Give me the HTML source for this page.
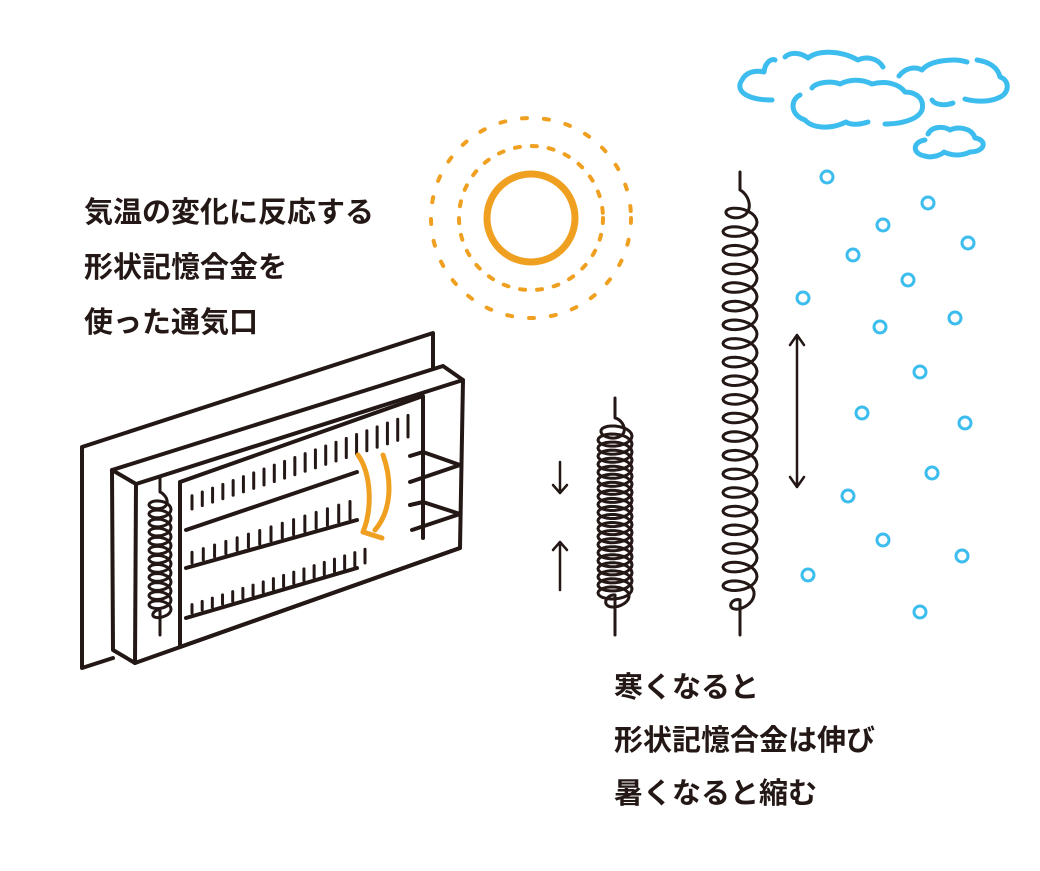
<!DOCTYPE html>
<html><head><meta charset="utf-8"><style>
html,body{margin:0;padding:0;background:#fff;width:1040px;height:871px;overflow:hidden}
.t{position:absolute;font-family:"Liberation Sans","Noto Sans CJK JP",sans-serif;font-weight:bold;font-size:29px;color:#231815;line-height:55px;white-space:nowrap}
</style></head><body>
<svg id="s" width="1040" height="871" style="position:absolute;left:0;top:0" xmlns="http://www.w3.org/2000/svg">
<g fill="none" stroke-linecap="round" stroke-linejoin="round">
<g stroke="#3dbdee" stroke-width="5">
<path d="M772,100 C745,100 735,90 742,80 C746,72 755,70 764,72 C765,62 772,58 775,60 M785,57 C790,52 800,52 808,58 C818,50 840,50 858,60 C866,56 878,58 883,67"/>
<path d="M800,95 C790,100 790,115 805,120 C812,128 830,130 846,122 C852,126 862,124 868,122 M885,124 C900,124 918,120 922,110 C925,98 915,92 905,92 C900,85 888,80 872,84 C860,78 848,80 840,84 C830,80 815,83 812,88"/>
<path d="M899,76 C905,68 915,66 922,70 C930,60 955,58 967,62 M977,60 C990,62 998,68 1000,77 C1010,80 1010,94 998,98 C990,102 975,102 965,99 M953,103 C945,106 935,105 932,100"/>
<path d="M925,140 C912,142 912,154 925,156 C930,158 940,156 944,152 C952,156 962,156 970,152 C985,152 988,140 975,138 C972,128 958,126 950,130 C944,126 932,126 928,134"/>
</g>
<g stroke="#3dbdee" stroke-width="3" id="rain"></g>
<circle cx="531" cy="218" r="44" stroke="#f0a020" stroke-width="7"/>
<circle cx="531" cy="218" r="72" stroke="#f0a020" stroke-width="4" stroke-dasharray="5 12"/>
<circle cx="531" cy="218" r="100" stroke="#f0a020" stroke-width="4" stroke-dasharray="5 17"/>
<g stroke="#231815" stroke-width="4">
<path d="M82,668 L82,447 L433,333 L433,372 M82,668 L113,658" fill="#fff"/>
<path d="M112,470 L443,366 L463,380 L460,548 L135,663 L113,650 Z" fill="#fff"/>
<path d="M112,470 L136,484 L463,380 M136,484 L135,663"/>
<path d="M180,482 L423,396 L423,538 M180,482 L180,647 L460,548"/>
<path d="M186,530 L357,472 M410,456 L423,452 L460,465 L410,482"/>
<path d="M186,568 L357,520 M410,505 L423,502 L460,514 L412,530"/>
<path d="M186,618 L357,568"/>
</g>
<g stroke="#231815" stroke-width="3" id="ticks"></g>
<path d="M358,455 C372,475 372,510 363,532 L382,538 M383,455 C392,480 392,510 375,530" stroke="#f0a020" stroke-width="5"/>
<g stroke="#231815" stroke-width="2.5">
<path d="M560,462 L560,493 M553,485 L560,493 L567,485"/>
<path d="M560,590 L560,542 M553,550 L560,542 L567,550"/>
<path d="M797,335 L797,487 M790,345 L797,335 L804,345 M790,477 L797,487 L804,477"/>
</g>
<g stroke="#231815" stroke-width="3" id="springs"></g>
</g>
</svg>
<div class="t" style="left:84px;top:186px">気温の変化に反応する<br>形状記憶合金を<br>使った通気口</div>
<div class="t" style="left:614px;top:662px;line-height:53px">寒くなると<br>形状記憶合金は伸び<br>暑くなると縮む</div>
<script>
var NS="http://www.w3.org/2000/svg";
function el(p,tag,a){var e=document.createElementNS(NS,tag);for(var k in a)e.setAttribute(k,a[k]);p.appendChild(e);}
var rain=document.getElementById("rain");
[[827,177],[928,203],[883,225],[968,243],[853,255],[908,280],[803,298],[880,327],[955,318],[920,372],[862,413],[965,423],[932,473],[848,496],[883,540],[962,556],[808,575],[920,612]].forEach(function(p){el(rain,"circle",{cx:p[0],cy:p[1],r:6});});
function spring(cx,y0,y1,n,rx,ry,top,bot){
 var d="M"+cx+","+top+" L"+cx+","+y0;var N=n*24;
 for(var i=0;i<=N;i++){var t=i/N*n*2*Math.PI;var y=y0+(y1-y0)*i/N;var f=Math.min(1,Math.min(i,N-i)/(N*0.08)+0.4);
  d+=" L"+(cx+rx*f*Math.sin(t)).toFixed(1)+","+(y-ry*Math.cos(t)+ry).toFixed(1);}
 d+=" L"+cx+","+bot;el(document.getElementById("springs"),"path",{d:d});}
spring(740,190,600,22,17,9,172,635);
spring(615,418,595,22,17,8,398,635);
spring(160,492,610,13,11,6,478,635);
var tk=document.getElementById("ticks");
function ticks(x0,y0,x1,y1,n,h){for(var i=0;i<n;i++){var x=x0+(x1-x0)*i/(n-1),y=y0+(y1-y0)*i/(n-1);el(tk,"line",{x1:x,y1:y-3,x2:x,y2:y-3-h*(0.6+0.4*i/n)});}}
ticks(192,512,408,440,22,22);
ticks(192,566,350,522,15,18);
ticks(192,616,365,566,18,14);
</script>
</body></html>
